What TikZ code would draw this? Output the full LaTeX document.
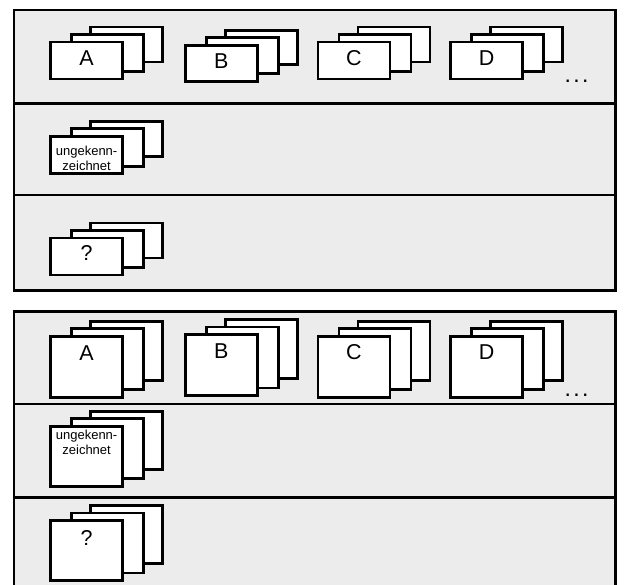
\documentclass[tikz,border=0pt]{standalone}
\usepackage{fontspec}
\setmainfont{Liberation Sans}
\definecolor{panelgray}{RGB}{236,236,236}
\tikzset{
  x=1pt, y=-1pt,
  rowbox/.style={fill=panelgray, draw=black, line width=2.7pt},
  card/.style={draw=black, fill=white, line width=2.7pt, rectangle, anchor=north west,
    minimum width=72pt, inner sep=0pt, outer sep=0pt},
  bigtxt/.style={font=\fontsize{21.5}{24}\selectfont, inner sep=0pt},
  smalltxt/.style={font=\fontsize{13}{14.7}\selectfont, align=center, inner sep=0pt},
  dots/.style={font=\fontsize{23}{24}\selectfont, inner sep=0pt, anchor=base west},
}
% #1 name prefix, #2 x of front card, #3 y of front card top, #4 height
\newcommand\cardstack[4]{%
  \node[card, minimum height=#4pt-2pt] (#1-3) at ({#2+40},{#3-15}) {};
  \node[card, minimum height=#4pt] (#1-2) at ({#2+21},{#3-7.5}) {};
  \node[card, minimum height=#4pt] (#1-1) at ({#2},{#3}) {};
}
\begin{document}
\begin{tikzpicture}
\useasboundingbox (0,0) rectangle (626,584);
\clip (0,0) rectangle (626,584);
% ---- upper panel ----
\draw[rowbox] (14,10) rectangle (615.3,103.3);
\draw[rowbox] (14,103.3) rectangle (615.3,195);
\draw[rowbox] (14,195) rectangle (615.3,290.3);
\cardstack{tA}{50.6}{42}{37}
\cardstack{tB}{185.3}{45.3}{36}
\cardstack{tC}{318}{42}{37}
\cardstack{tD}{450.6}{42}{37}
\cardstack{tU}{50.6}{136.3}{37.5}
\cardstack{tQ}{50.6}{238}{37}
\node[bigtxt, anchor=north] (tAt) at ([yshift=-9pt]tA-1.north) {A};
\node[bigtxt, anchor=north] (tBt) at ([yshift=-8pt]tB-1.north) {B};
\node[bigtxt, anchor=north] (tCt) at ([yshift=-8.5pt]tC-1.north) {C};
\node[bigtxt, anchor=north] (tDt) at ([yshift=-8.5pt]tD-1.north) {D};
\node[smalltxt, anchor=north] (tUt) at ([yshift=-10pt]tU-1.north) {ungekenn-\\zeichnet};
\node[bigtxt, anchor=north] (tQt) at ([yshift=-7.5pt]tQ-1.north) {?};
\node[dots] (tdots) at (564.5,82.5) {.\kern2.3pt.\kern2.3pt.};
% ---- lower panel ----
\draw[rowbox] (14,311.3) rectangle (615.3,404);
\draw[rowbox] (14,404) rectangle (615.3,497.3);
\draw[rowbox] (14,497.3) rectangle (615.3,640);
\cardstack{bA}{50.6}{336.3}{61}
\cardstack{bB}{185.3}{334.6}{61}
\cardstack{bC}{318}{336.3}{61}
\cardstack{bD}{450.6}{336.3}{61}
\cardstack{bU}{50.6}{426.3}{60}
\cardstack{bQ}{50.6}{520.6}{60}
\node[bigtxt, anchor=north] (bAt) at ([yshift=-9pt]bA-1.north) {A};
\node[bigtxt, anchor=north] (bBt) at ([yshift=-8.5pt]bB-1.north) {B};
\node[bigtxt, anchor=north] (bCt) at ([yshift=-8pt]bC-1.north) {C};
\node[bigtxt, anchor=north] (bDt) at ([yshift=-8.5pt]bD-1.north) {D};
\node[smalltxt, anchor=north] (bUt) at ([yshift=-3.7pt]bU-1.north) {ungekenn-\\zeichnet};
\node[bigtxt, anchor=north] (bQt) at ([yshift=-9.4pt]bQ-1.north) {?};
\node[dots] (bdots) at (564.5,396.5) {.\kern2.3pt.\kern2.3pt.};
\end{tikzpicture}
\end{document}
